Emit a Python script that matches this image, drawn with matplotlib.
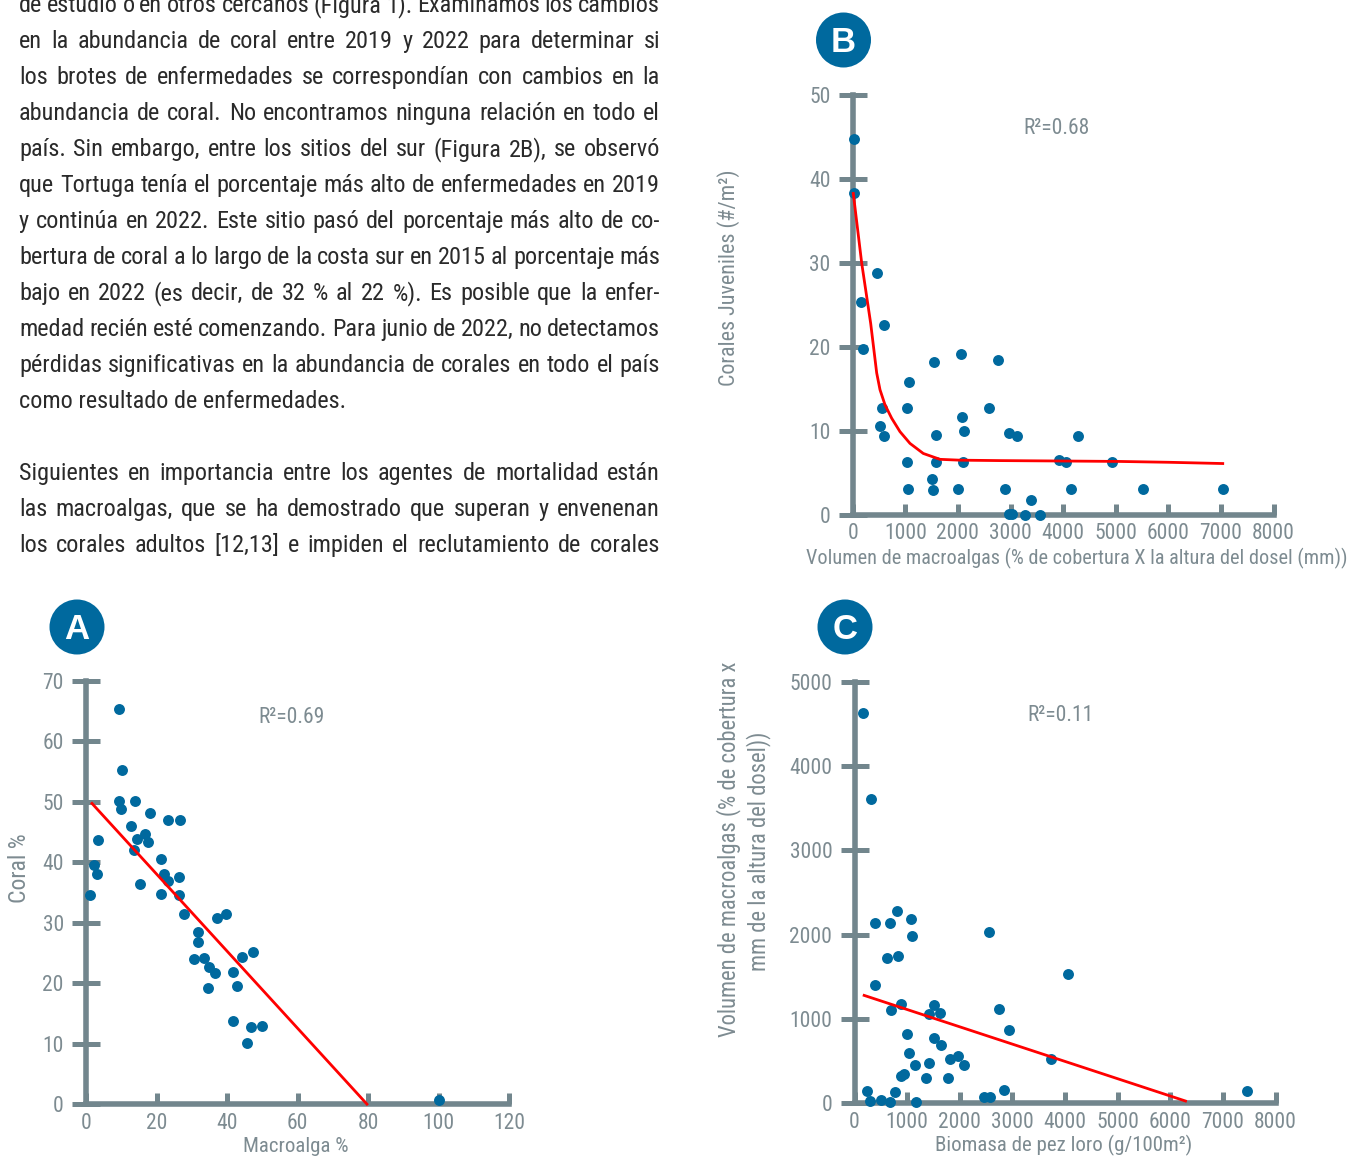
import matplotlib
matplotlib.use("Agg")
import matplotlib.pyplot as plt
from matplotlib import font_manager
from matplotlib.patches import Circle

# ---------------------------------------------------------------- data
# Panel A: macroalgae cover vs coral cover (%)
macro_pct = [9.3, 10.2, 9.3, 9.8, 13.9, 18.1, 12.9, 16.6, 14.4, 17.5, 13.6, 23.3,
             26.7, 3.4, 2.2, 3.1, 1.0, 15.4, 21.4, 22.1, 23.3, 21.3, 26.5, 26.5,
             27.7, 37.3, 39.6, 31.8, 31.8, 30.6, 33.4, 34.9, 36.6, 34.7, 44.2,
             47.3, 41.6, 42.8, 41.6, 46.7, 49.8, 45.6, 100.0]
coral_pct = [65.3, 55.2, 50.1, 48.8, 50.1, 48.1, 46.0, 44.7, 43.9, 43.4, 42.1, 46.9,
             46.9, 43.7, 39.6, 38.1, 34.6, 36.4, 40.5, 38.0, 36.9, 34.8, 37.6, 34.6,
             31.4, 30.8, 31.5, 28.5, 26.9, 24.0, 24.2, 22.7, 21.7, 19.3, 24.3,
             25.1, 21.8, 19.6, 13.7, 12.7, 13.0, 10.2, 0.7]
fit_a = (50.8, -0.637)          # intercept, slope
fit_a_range = (1.7, 79.7)

# Panel B: macroalgal volume vs juvenile coral density
volume_b = [20, 20, 461, 151, 191, 596, 556, 517, 588, 1065, 1025, 1025, 1049,
            1542, 1590, 1582, 1502, 1526, 2003, 2067, 2075, 2114, 2106, 2766,
            2591, 2973, 3124, 2901, 2973, 3037, 3283, 3386, 3561, 3927, 4062,
            4149, 4285, 4928, 5517, 7043]
juveniles = [44.8, 38.4, 28.8, 25.3, 19.7, 22.6, 12.7, 10.6, 9.4, 15.8, 12.7, 6.3,
             3.1, 18.2, 9.5, 6.3, 4.3, 3.0, 3.1, 19.1, 11.6, 10.0, 6.3, 18.5,
             12.7, 9.7, 9.4, 3.1, 0.1, 0.1, 0.0, 1.7, 0.0, 6.5, 6.3,
             3.1, 9.4, 6.3, 3.1, 3.1]
trend_b_x = [11, 171, 342, 456, 519, 614, 741, 899, 1089, 1342, 1660, 2040,
             2800, 4000, 5060, 6000, 7035]
trend_b_y = [38.3, 30.0, 22.8, 16.9, 14.9, 13.1, 11.5, 9.9, 8.5, 7.3, 6.6, 6.5,
             6.45, 6.4, 6.35, 6.25, 6.1]

# Panel C: parrotfish biomass vs macroalgal volume
parrotfish = [167, 318, 382, 669, 804, 1075, 1091, 613, 836, 398, 884, 685, 1513,
              1417, 1616, 995, 1513, 1640, 1043, 1154, 1409, 1815, 1975, 2078, 939,
              892, 1361, 1775, 231, 287, 502, 669, 772, 1162, 2460, 2572, 2564,
              2755, 2930, 2834, 3726, 4053, 7452]
volume_c = [4627, 3609, 2142, 2142, 2279, 2185, 1983, 1721, 1751, 1408, 1172, 1103,
            1163, 1064, 1069, 824, 768, 687, 597, 455, 481, 519, 558, 459, 348,
            326, 296, 300, 146, 21, 43, 9, 129, 13, 77, 77, 2026,
            1120, 863, 159, 528, 1536, 142]
fit_c = (1316.5, -0.2052)
fit_c_range = (183, 6290)

r2_labels = ["R\u00b2=0.69", "R\u00b2=0.68", "R\u00b2=0.11"]

paragraph_1 = [
    "de estudio o en otros cercanos (Figura 1). Examinamos los cambios",
    "en la abundancia de coral entre 2019 y 2022 para determinar si",
    "los brotes de enfermedades se correspondían con cambios en la",
    "abundancia de coral. No encontramos ninguna relación en todo el",
    "país. Sin embargo, entre los sitios del sur (Figura 2B), se observó",
    "que Tortuga tenía el porcentaje más alto de enfermedades en 2019",
    "y continúa en 2022. Este sitio pasó del porcentaje más alto de co-",
    "bertura de coral a lo largo de la costa sur en 2015 al porcentaje más",
    "bajo en 2022 (es decir, de 32 % al 22 %). Es posible que la enfer-",
    "medad recién esté comenzando. Para junio de 2022, no detectamos",
    "pérdidas significativas en la abundancia de corales en todo el país",
    "como resultado de enfermedades.",
]
paragraph_2 = [
    "Siguientes en importancia entre los agentes de mortalidad están",
    "las macroalgas, que se ha demostrado que superan y envenenan",
    "los corales adultos [12,13] e impiden el reclutamiento de corales",
]

# ---------------------------------------------------------------- style
W, H, DPI = 1359, 1157, 100
names = {f.name for f in font_manager.fontManager.ttflist}
NARROW = next((f for f in ["Liberation Sans Narrow", "DejaVu Sans Condensed",
                           "Roboto Condensed", "Liberation Sans"] if f in names),
              "DejaVu Sans")
BOLD = "Liberation Sans" if "Liberation Sans" in names else "DejaVu Sans"
plt.rcParams["font.family"] = [NARROW, "DejaVu Sans"]

AXIS = "#72868d"
LABEL = "#7d8b91"
BLUE = "#00699e"
RED = "#ff0000"
BODY = "#2a2a2a"
TICK_SIZE = 15.5
LABEL_SIZE = 15
BODY_SIZE = 17.5

fig = plt.figure(figsize=(W / DPI, H / DPI), dpi=DPI)
fig.patch.set_facecolor("white")


def px_axes(x0, y0_bottom, x1, y1_top):
    """Axes whose data box spans the given pixel rectangle (y from top)."""
    return fig.add_axes([x0 / W, 1 - y0_bottom / H, (x1 - x0) / W,
                         (y0_bottom - y1_top) / H])


def style(ax, xmax, ymax, xticks, yticks):
    ax.set_xlim(0, xmax)
    ax.set_ylim(0, ymax)
    ax.patch.set_alpha(0)
    for s in ("top", "right"):
        ax.spines[s].set_visible(False)
    for s in ("left", "bottom"):
        ax.spines[s].set_color(AXIS)
        ax.spines[s].set_linewidth(4)
    ax.set_xticks(xticks)
    ax.set_yticks(yticks)
    ax.tick_params(axis="y", direction="inout", length=20, width=3.6,
                   color=AXIS, labelcolor=LABEL, labelsize=TICK_SIZE, pad=6)
    ax.tick_params(axis="x", direction="in", length=8, width=3.6,
                   color=AXIS, labelcolor=LABEL, labelsize=TICK_SIZE, pad=6)


def dots(ax, x, y):
    ax.scatter(x, y, s=62, color=BLUE, linewidths=0, zorder=3, clip_on=False)


# ---------------------------------------------------------------- panel A
ax_a = px_axes(86, 1104.3, 509, 680.7)
style(ax_a, 120, 70, range(0, 121, 20), range(0, 71, 10))
dots(ax_a, macro_pct, coral_pct)
xa = list(fit_a_range)
ax_a.plot(xa, [fit_a[0] + fit_a[1] * v for v in xa], color=RED, lw=2,
          zorder=4, clip_on=False)
ax_a.text(48.9, 64.0, r2_labels[0], color=LABEL, fontsize=TICK_SIZE, va="center")

# ---------------------------------------------------------------- panel B
ax_b = px_axes(852.7, 514.7, 1273.5, 95.3)
style(ax_b, 8000, 50, range(0, 8001, 1000), range(0, 51, 10))
dots(ax_b, volume_b, juveniles)
ax_b.plot(trend_b_x, trend_b_y, color=RED, lw=2, zorder=4, clip_on=False)
ax_b.text(3250, 46.1, r2_labels[1], color=LABEL, fontsize=TICK_SIZE, va="center")

# ---------------------------------------------------------------- panel C
ax_c = px_axes(854.5, 1103.2, 1275.5, 681.7)
style(ax_c, 8000, 5000, range(0, 8001, 1000), range(0, 5001, 1000))
dots(ax_c, parrotfish, volume_c)
xc = list(fit_c_range)
ax_c.plot(xc, [fit_c[0] + fit_c[1] * v for v in xc], color=RED, lw=2,
          zorder=4, clip_on=False)
ax_c.text(3290, 4596, r2_labels[2], color=LABEL, fontsize=TICK_SIZE, va="center")

# ---------------------------------------------------------------- axis titles
def ftext(x, y, s, **kw):
    return fig.text(x / W, 1 - y / H, s, **kw)


lab = dict(color=LABEL, fontsize=LABEL_SIZE, ha="center", va="center")
ftext(296, 1146, "Macroalga %", **lab)
ftext(20, 868, "Coral %", rotation=90, **dict(lab, fontsize=17))
ftext(1077, 558, "Volumen de macroalgas (% de cobertura X la altura del dosel (mm))",
      **dict(lab, fontsize=14.6))
ftext(729, 278, "Corales Juveniles (#/m\u00b2)", rotation=90,
      **dict(lab, fontsize=15.8))
ftext(1064, 1145, "Biomasa de pez loro (g/100m\u00b2)", **lab)
ftext(729, 849, "Volumen de macroalgas (% de cobertura x", rotation=90,
      **dict(lab, fontsize=16.3))
ftext(759, 851, "mm de la altura del dosel))", rotation=90,
      **dict(lab, fontsize=16.3))

# ---------------------------------------------------------------- panel badges
for letter, cx, cy in [("A", 77, 627), ("B", 843.5, 40), ("C", 845, 627)]:
    fig.add_artist(Circle((cx / DPI, (H - cy) / DPI), 0.275,
                          transform=fig.dpi_scale_trans, color=BLUE, lw=0))
    ftext(cx, cy + 12.4, letter, color="white", fontsize=25, fontweight="bold",
          family=[BOLD, "DejaVu Sans"], ha="center", va="baseline")

# ---------------------------------------------------------------- body text
TEXT_L, TEXT_R = 19, 660
LEAD = 36
renderer = fig.canvas.get_renderer()


def body_line(line, baseline, justify):
    if not justify:
        ftext(TEXT_L, baseline, line, color=BODY, fontsize=BODY_SIZE, va="baseline")
        return
    words = line.split()
    objs = [ftext(0, baseline, w, color=BODY, fontsize=BODY_SIZE, va="baseline")
            for w in words]
    widths = [o.get_window_extent(renderer).width for o in objs]
    gap = (TEXT_R - TEXT_L - sum(widths)) / max(len(words) - 1, 1)
    x = TEXT_L
    for o, wd in zip(objs, widths):
        o.set_x(x / W)
        x += wd + gap


base = 12.3
for i, line in enumerate(paragraph_1):
    body_line(line, base + i * LEAD, i < len(paragraph_1) - 1)
base2 = base + (len(paragraph_1) + 1) * LEAD
for i, line in enumerate(paragraph_2):
    body_line(line, base2 + i * LEAD, True)

fig.savefig("out.png", dpi=DPI, facecolor="white")
